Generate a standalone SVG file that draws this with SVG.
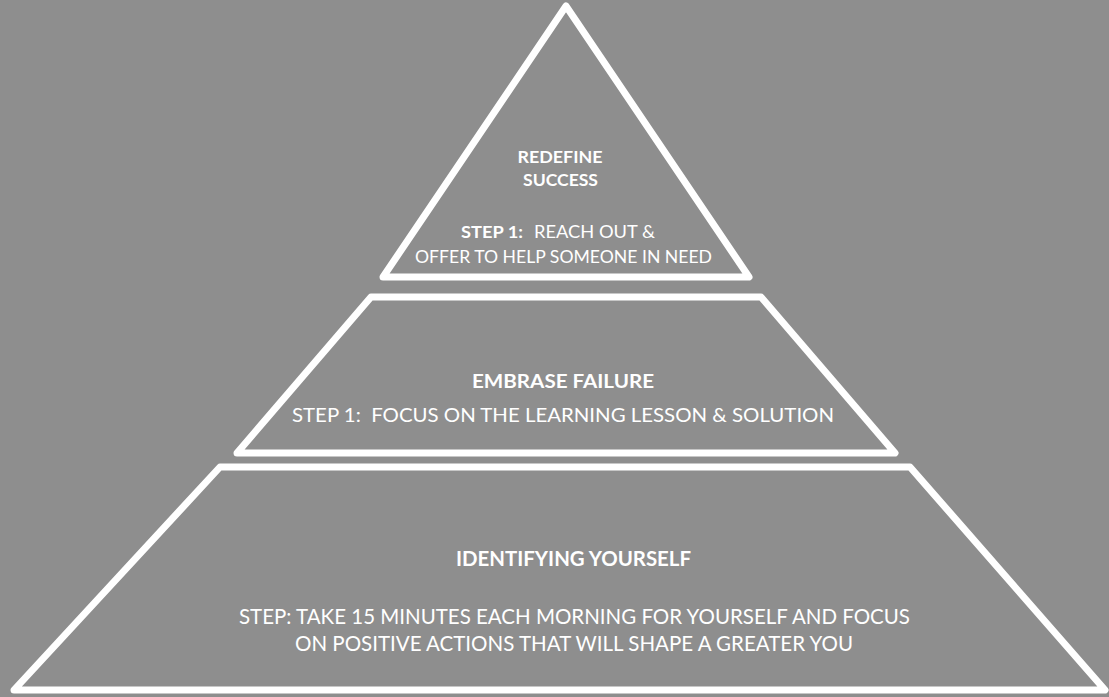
<svg xmlns="http://www.w3.org/2000/svg" width="1109" height="697" viewBox="0 0 1109 697">
<style>
.shape{fill:none;stroke:#ffffff;stroke-width:7;stroke-linejoin:round}
text{font-family:Lato,"Open Sans","Liberation Sans",sans-serif;fill:#ffffff;text-anchor:middle}
.b{font-weight:bold}
.t1{font-size:17.5px}
.t2{font-size:19.5px}
.t3{font-size:21px}
</style>
<rect x="0" y="0" width="1109" height="697" fill="#8e8e8e"/>
<g id="level-top">
<path class="shape" d="M566,6 L749,277 L383,277 Z"/>
<text class="b t1" x="560" y="163" textLength="85" lengthAdjust="spacingAndGlyphs">REDEFINE</text>
<text class="b t1" x="560.5" y="185.5" textLength="75" lengthAdjust="spacingAndGlyphs">SUCCESS</text>
<text class="b t1" x="492" y="237.5" textLength="62" lengthAdjust="spacingAndGlyphs">STEP 1:</text>
<text class="t1" x="594.5" y="237.5" textLength="121" lengthAdjust="spacingAndGlyphs">REACH OUT &amp;</text>
<text class="t1" x="563.5" y="263" textLength="297" lengthAdjust="spacingAndGlyphs">OFFER TO HELP SOMEONE IN NEED</text>
</g>
<g id="level-middle">
<path class="shape" d="M371,297 L761,297 L895,453 L237,453 Z"/>
<text class="b t2" x="563" y="388" textLength="182" lengthAdjust="spacingAndGlyphs">EMBRASE FAILURE</text>
<text class="t2" x="563" y="422" textLength="542" lengthAdjust="spacingAndGlyphs" xml:space="preserve">STEP 1:  FOCUS ON THE LEARNING LESSON &amp; SOLUTION</text>
</g>
<g id="level-bottom">
<path class="shape" d="M220,467 L910,467 L1105,690 L14,690 Z"/>
<text class="b t3" x="573.5" y="566" textLength="235" lengthAdjust="spacingAndGlyphs">IDENTIFYING YOURSELF</text>
<text class="t3" x="574.5" y="623.5" textLength="671" lengthAdjust="spacingAndGlyphs">STEP: TAKE 15 MINUTES EACH MORNING FOR YOURSELF AND FOCUS</text>
<text class="t3" x="574" y="651" textLength="558" lengthAdjust="spacingAndGlyphs">ON POSITIVE ACTIONS THAT WILL SHAPE A GREATER YOU</text>
</g>
<g id="connectors"/>
</svg>
